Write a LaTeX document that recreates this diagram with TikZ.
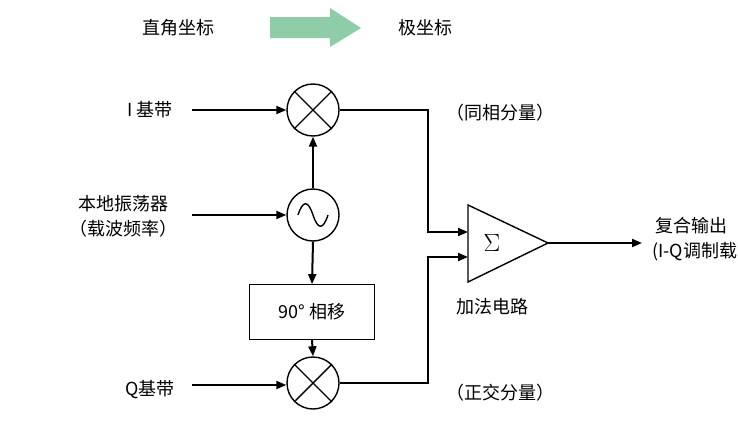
\documentclass[tikz,border=0pt]{standalone}
\usepackage{fontspec}
\setmainfont{Noto Sans CJK SC}
\usetikzlibrary{arrows.meta}
\definecolor{grn}{HTML}{8FCCA8}
\begin{document}
\begin{tikzpicture}[x=1pt,y=-1pt,
  txt/.style={font=\fontsize{18}{20}\selectfont,inner sep=0pt},
  mix/.style={circle,draw,line width=1.4pt,minimum size=52pt,inner sep=0pt},
  ar/.style={line width=2pt,-{Triangle[length=10pt,width=8pt]}},
  ln/.style={line width=2pt}]
\useasboundingbox (0,0) rectangle (738,439);
\node[txt] (rect) at (178,28) {直角坐标};
\node[txt] (pol) at (425,28) {极坐标};
\fill[grn] (270,17) -- (330,17) -- (330,8) -- (361,28) -- (330,47) -- (330,38) -- (270,38) -- cycle;
\node[mix] (m1) at (313,110) {};
\draw[line width=1.4pt] (m1.north west) -- (m1.south east) (m1.north east) -- (m1.south west);
\node[mix] (m2) at (313,383) {};
\draw[line width=1.4pt] (m2.north west) -- (m2.south east) (m2.north east) -- (m2.south west);
\node[mix] (osc) at (313,215) {};
\draw[line width=1.4pt] (298,215) .. controls (303,200) and (308,200) .. (313,215) .. controls (318,230) and (323,230) .. (328,215);
\node[draw,line width=0.8pt,minimum width=125pt,minimum height=55pt,txt] (ph) at (312,312) {90° 相移};
\node[txt] (ib) at (150,110) {I 基带};
\node[txt] (lo1) at (123,204) {本地振荡器};
\node[txt] (lo2) at (123,229) {（载波频率）};
\node[txt] (qb) at (150,390) {Q基带};
\coordinate (ia) at (192,110);
\coordinate (la) at (192,215);
\coordinate (qa) at (192,385);
\draw[ar] (ia) -- (m1.west);
\draw[ar] (la) -- (osc.west);
\draw[ar] (qa) -- (m2.west |- qa);
\draw[ar] (osc.north) -- (m1.south);
\draw[ar] (osc.south) -- (ph.north);
\draw[ar] (ph.south) -- (m2.north);
\draw[line width=1.4pt] (468,205) coordinate (s1) -- (548,243) coordinate (so) -- (468,282) -- cycle;
\node[font=\fontsize{30}{32}\selectfont] (sig) at (492,243) {$\Sigma$};
\draw[ar] (m1.east) -- (428,110) -- (428,232) -- (468,232);
\draw[ar] (m2.east) -- (428,383) -- (428,257) -- (468,257);
\coordinate (out) at (642,243);
\draw[ar] (so) -- (out);
\node[txt] (ip) at (500,113) {（同相分量）};
\node[txt] (qp) at (500,393) {（正交分量）};
\node[txt] (add) at (492,307) {加法电路};
\node[txt,anchor=west] (o1) at (655,226) {复合输出};
\node[txt,anchor=west] (o2) at (652,252) {(I-Q调制载};
\end{tikzpicture}
\end{document}
